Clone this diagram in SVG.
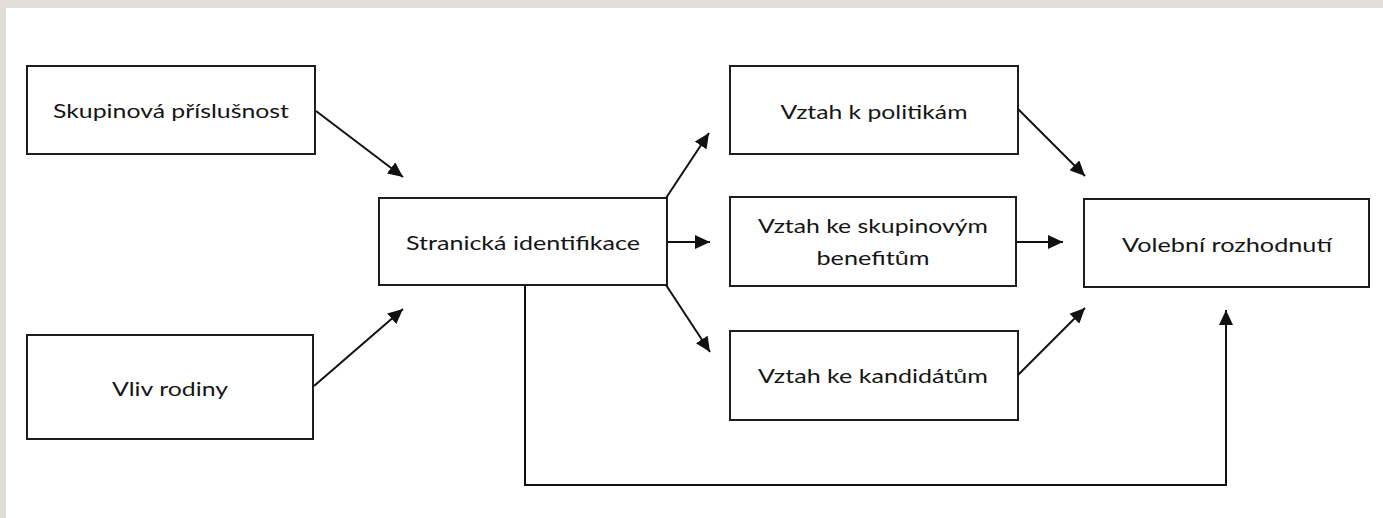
<svg xmlns="http://www.w3.org/2000/svg" width="1383" height="518" viewBox="0 0 1383 518">
  <defs>
    <marker id="arr" markerUnits="userSpaceOnUse" markerWidth="16" markerHeight="14" refX="15" refY="7" orient="auto">
      <path d="M0,0 L15,7 L0,14 Z" fill="#111"/>
    </marker>
    <style>
      .box { fill: #fff; stroke: #1e1e1e; stroke-width: 2; }
      .lbl { font-family: Lato, "Open Sans", "Liberation Sans", sans-serif; font-size: 19px; fill: #151515; text-anchor: middle; dominant-baseline: central; }
      .con { fill: none; stroke: #111; stroke-width: 2; }
    </style>
  </defs>
  <rect x="0" y="0" width="1383" height="518" fill="#e1ded8"/>
  <rect x="6" y="8" width="1377" height="510" fill="#fff"/>

  <g id="skupinova">
    <rect class="box" x="27" y="66" width="288" height="88"/>
    <text class="lbl" x="171" y="110" textLength="236" lengthAdjust="spacingAndGlyphs">Skupinová příslušnost</text>
  </g>
  <g id="vliv-rodiny">
    <rect class="box" x="27" y="335" width="286" height="104"/>
    <text class="lbl" x="170" y="388" textLength="116" lengthAdjust="spacingAndGlyphs">Vliv rodiny</text>
  </g>
  <g id="stranicka">
    <rect class="box" x="379" y="198" width="288" height="87"/>
    <text class="lbl" x="523" y="242" textLength="234" lengthAdjust="spacingAndGlyphs">Stranická identifikace</text>
  </g>
  <g id="politikam">
    <rect class="box" x="730" y="66" width="288" height="88"/>
    <text class="lbl" x="874" y="111" textLength="187" lengthAdjust="spacingAndGlyphs">Vztah k politikám</text>
  </g>
  <g id="benefitum">
    <rect class="box" x="730" y="197" width="286" height="89"/>
    <text class="lbl" x="873" y="225" textLength="230" lengthAdjust="spacingAndGlyphs">Vztah ke skupinovým</text>
    <text class="lbl" x="873" y="257" textLength="113" lengthAdjust="spacingAndGlyphs">benefitům</text>
  </g>
  <g id="kandidatum">
    <rect class="box" x="730" y="331" width="288" height="89"/>
    <text class="lbl" x="873" y="375" textLength="230" lengthAdjust="spacingAndGlyphs">Vztah ke kandidátům</text>
  </g>
  <g id="volebni">
    <rect class="box" x="1084" y="199" width="285" height="88"/>
    <text class="lbl" x="1227" y="244" textLength="210" lengthAdjust="spacingAndGlyphs">Volební rozhodnutí</text>
  </g>

  <g id="connectors">
    <line class="con" x1="316" y1="111" x2="403" y2="177" marker-end="url(#arr)"/>
    <line class="con" x1="314" y1="386" x2="403" y2="309" marker-end="url(#arr)"/>
    <line class="con" x1="666" y1="198" x2="709" y2="133" marker-end="url(#arr)"/>
    <line class="con" x1="667" y1="242" x2="710" y2="242" marker-end="url(#arr)"/>
    <line class="con" x1="666" y1="285" x2="710" y2="352" marker-end="url(#arr)"/>
    <line class="con" x1="1018" y1="109" x2="1085" y2="176" marker-end="url(#arr)"/>
    <line class="con" x1="1016" y1="242" x2="1063" y2="242" marker-end="url(#arr)"/>
    <line class="con" x1="1018" y1="375" x2="1085" y2="308" marker-end="url(#arr)"/>
    <polyline class="con" points="525,285 525,485 1226,485 1226,310" marker-end="url(#arr)"/>
  </g>
</svg>
